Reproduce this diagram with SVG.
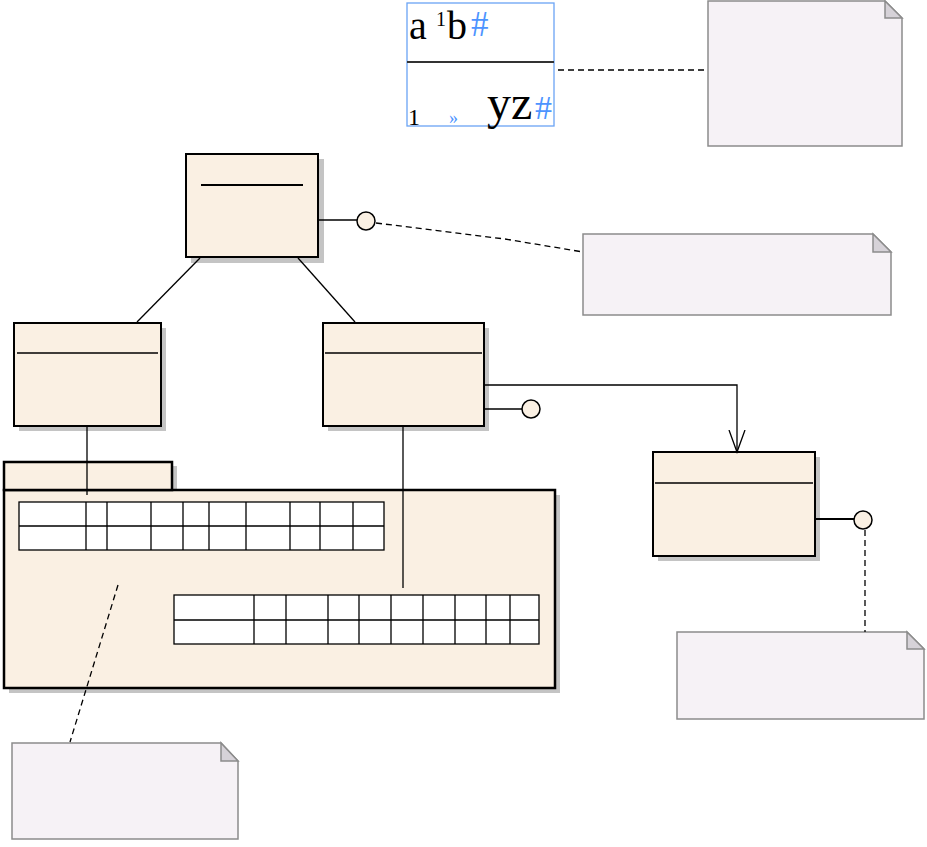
<svg xmlns="http://www.w3.org/2000/svg" width="927" height="847" viewBox="0 0 927 847">
<style>
.cls{fill:#FAF0E3;stroke:#000;stroke-width:2}
.shd{fill:#C4C4C4}
.div{stroke:#000;stroke-width:1.5}
.note{fill:#F6F2F6;stroke:#8C8C8C;stroke-width:1.5}
.fold{fill:#D6D2D8;stroke:#8C8C8C;stroke-width:1.5}
.ln{stroke:#000;stroke-width:1.3;fill:none}
.dash{stroke:#000;stroke-width:1.3;fill:none;stroke-dasharray:6,4}
.lol{fill:#FAF0E3;stroke:#000;stroke-width:1.5}
.tbl{fill:#fff;stroke:#000;stroke-width:1.3}
.tx{font-family:"Liberation Serif",serif;fill:#000}
.bl{font-family:"Liberation Serif",serif;fill:#4D94FF}
</style>
<defs>
<marker id="open" markerWidth="20" markerHeight="30" refX="9" refY="22" orient="0" markerUnits="userSpaceOnUse">
<path d="M1,0 L9,22 L17,0" fill="none" stroke="#000" stroke-width="1.3"/>
</marker>
</defs>

<g id="textbox">
<rect x="407" y="3" width="147" height="123" fill="none" stroke="#6AA4F5" stroke-width="1.3"/>
<line x1="407" y1="62" x2="554" y2="62" stroke="#333" stroke-width="2"/>
<text class="tx" x="409" y="39" font-size="40">a</text>
<text class="tx" x="436" y="26" font-size="20">1</text>
<text class="tx" x="447" y="39" font-size="40">b</text>
<text class="bl" x="471" y="36" font-size="35">#</text>
<text class="tx" x="408" y="125" font-size="24">1</text>
<text class="bl" x="449" y="124" font-size="18">»</text>
<text class="tx" x="487" y="119" font-size="48">yz</text>
<text class="bl" x="535" y="119" font-size="34">#</text>
</g>

<g id="note1">
<path class="note" d="M708,1 H885 L902,18 V146 H708 Z"/>
<path class="fold" d="M885,1 V18 H902 Z"/>
</g>

<g id="note2">
<path class="note" d="M583,234 H873 L891,252 V315 H583 Z"/>
<path class="fold" d="M873,234 V252 H891 Z"/>
</g>

<g id="note3">
<path class="note" d="M12,743 H221 L238,761 V839 H12 Z"/>
<path class="fold" d="M221,743 V761 H238 Z"/>
</g>

<g id="note4">
<path class="note" d="M677,632 H907 L924,649 V719 H677 Z"/>
<path class="fold" d="M907,632 V649 H924 Z"/>
</g>

<g id="classA">
<rect class="shd" x="191" y="159" width="133" height="104"/>
<rect class="cls" x="186" y="154" width="132" height="103"/>
<line x1="201" y1="185" x2="303" y2="185" stroke="#000" stroke-width="2"/>
</g>

<g id="classB">
<rect class="shd" x="19" y="328" width="147" height="103"/>
<rect class="cls" x="14" y="323" width="147" height="103"/>
<line class="div" x1="17" y1="353" x2="158" y2="353"/>
</g>

<g id="classC">
<rect class="shd" x="328" y="328" width="161" height="103"/>
<rect class="cls" x="323" y="323" width="161" height="103"/>
<line class="div" x1="325" y1="353" x2="482" y2="353"/>
</g>

<g id="classD">
<rect class="shd" x="658" y="457" width="162" height="104"/>
<rect class="cls" x="653" y="452" width="162" height="104"/>
<line class="div" x1="655" y1="483" x2="813" y2="483"/>
</g>

<g id="package">
<rect class="shd" x="9" y="466" width="168" height="29"/>
<rect class="shd" x="9" y="495" width="551" height="198"/>
<rect x="4" y="490" width="551" height="198" fill="#FAF0E3" stroke="#000" stroke-width="2.5"/>
<rect x="4" y="462" width="168" height="28" fill="#FAF0E3" stroke="#000" stroke-width="2.5"/>
</g>

<g id="table1">
<rect class="tbl" x="19" y="502" width="365" height="48"/>
<path class="ln" d="M19,526 H384 M86,502 V550 M107,502 V550 M151,502 V550 M183,502 V550 M209,502 V550 M246,502 V550 M290,502 V550 M320,502 V550 M353,502 V550"/>
</g>

<g id="table2">
<rect class="tbl" x="174" y="595" width="365" height="49"/>
<path class="ln" d="M174,620 H539 M254,595 V644 M286,595 V644 M328,595 V644 M359,595 V644 M391,595 V644 M423,595 V644 M455,595 V644 M486,595 V644 M510,595 V644"/>
</g>

<g id="connectors">
<line class="dash" x1="558" y1="70" x2="707" y2="70"/>
<line class="ln" x1="319" y1="220" x2="357" y2="220"/>
<polyline class="dash" points="376,223 505,239 583,252"/>
<line class="ln" x1="200" y1="258" x2="137" y2="322"/>
<line class="ln" x1="298" y1="258" x2="355" y2="322"/>
<line class="ln" x1="87" y1="427" x2="87" y2="495"/>
<line class="ln" x1="403" y1="427" x2="403" y2="588"/>
<polyline class="ln" points="485,385 737,385 737,452" marker-end="url(#open)"/>
<line class="ln" x1="485" y1="409" x2="522" y2="409"/>
<line class="ln" x1="816" y1="519" x2="854" y2="519" style="stroke-width:2"/>
<line class="dash" x1="865" y1="530" x2="865" y2="632"/>
<line class="dash" x1="118" y1="585" x2="70" y2="742"/>
</g>

<g id="lollipops">
<circle class="lol" cx="366" cy="221" r="9"/>
<circle class="lol" cx="531" cy="409" r="9"/>
<circle class="lol" cx="863" cy="520" r="9"/>
</g>
</svg>
